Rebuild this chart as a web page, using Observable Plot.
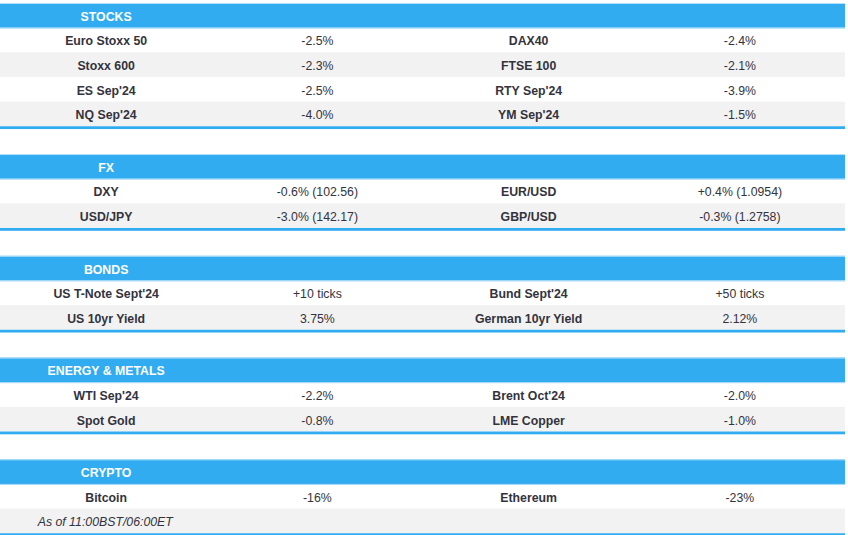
<!DOCTYPE html>
<html>
<head>
<meta charset="utf-8">
<script src="https://cdn.jsdelivr.net/npm/d3@7"></script>
<script src="https://cdn.jsdelivr.net/npm/@observablehq/plot@0.6"></script>
<style>
  html, body { margin: 0; padding: 0; background: #ffffff; }
  #chart svg { display: block; }
</style>
</head>
<body>
<div id="chart"></div>
<script>
// ---- data ----
const sectionTitles = ["STOCKS", "FX", "BONDS", "ENERGY & METALS", "CRYPTO"];
const sectionRowCounts = [4, 2, 2, 2, 2];

const leftNames = ["Euro Stoxx 50", "Stoxx 600", "ES Sep'24", "NQ Sep'24",
  "DXY", "USD/JPY",
  "US T-Note Sept'24", "US 10yr Yield",
  "WTI Sep'24", "Spot Gold",
  "Bitcoin", ""];
const leftValues = ["-2.5%", "-2.3%", "-2.5%", "-4.0%",
  "-0.6% (102.56)", "-3.0% (142.17)",
  "+10 ticks", "3.75%",
  "-2.2%", "-0.8%",
  "-16%", ""];
const rightNames = ["DAX40", "FTSE 100", "RTY Sep'24", "YM Sep'24",
  "EUR/USD", "GBP/USD",
  "Bund Sept'24", "German 10yr Yield",
  "Brent Oct'24", "LME Copper",
  "Ethereum", ""];
const rightValues = ["-2.4%", "-2.1%", "-3.9%", "-1.5%",
  "+0.4% (1.0954)", "-0.3% (1.2758)",
  "+50 ticks", "2.12%",
  "-2.0%", "-1.0%",
  "-23%", ""];
const footnote = "As of 11:00BST/06:00ET";

// ---- layout (table structure) ----
const TOP = 3, UNIT = 24.65, LINE = 2.8, GAP = 25;
const headers = [], rows = [], lines = [];
let yPos = TOP, r = 0;
sectionTitles.forEach((title, i) => {
  headers.push({ title, y1: yPos, y2: yPos + UNIT });
  yPos += UNIT;
  for (let k = 0; k < sectionRowCounts[i]; k++) {
    rows.push({
      y1: yPos, y2: yPos + UNIT, shade: k % 2 === 1,
      ln: leftNames[r], lv: leftValues[r], rn: rightNames[r], rv: rightValues[r]
    });
    r++;
    yPos += UNIT;
  }
  lines.push({ y1: yPos, y2: yPos + LINE });
  yPos += LINE + GAP;
});
const footRow = [rows[rows.length - 1]];
const mid = d => (d.y1 + d.y2) / 2;

const BLUE = "#31acf1";
const TEXT = "#33333d";
const FONT = "'Liberation Sans', Arial, sans-serif";
const FS = 12.3;
const DY = 1;

const chart = Plot.plot({
  width: 848,
  height: 535,
  marginTop: 0, marginBottom: 0, marginLeft: 0, marginRight: 3,
  x: { domain: [0, 4], axis: null },
  y: { domain: [0, 535], range: [0, 535], axis: null },
  style: { fontFamily: FONT, background: "#ffffff" },
  marks: [
    Plot.rect(rows, { x1: () => 0, x2: () => 4, y1: "y1", y2: "y2", fill: d => d.shade ? "#f2f2f2" : "#ffffff" }),
    Plot.rect(headers, { x1: () => 0, x2: () => 4, y1: "y1", y2: "y2", fill: BLUE }),
    Plot.ruleY(headers, { y: "y1", stroke: "#b4e0fa", strokeWidth: 1 }),
    Plot.ruleY(headers, { y: "y2", stroke: "#9ed6f7", strokeWidth: 1 }),
    Plot.rect(lines, { x1: () => 0, x2: () => 4, y1: "y1", y2: "y2", fill: BLUE }),
    Plot.text(headers, { x: () => 0.5, y: mid, dy: DY, text: "title", fill: "#ffffff", fontWeight: "bold", fontSize: FS, fontFamily: FONT }),
    Plot.text(rows, { x: () => 0.5, y: mid, dy: DY, text: "ln", fill: TEXT, fontWeight: "bold", fontSize: FS, fontFamily: FONT }),
    Plot.text(rows, { x: () => 1.5, y: mid, dy: DY, text: "lv", fill: TEXT, fontSize: FS, fontFamily: FONT }),
    Plot.text(rows, { x: () => 2.5, y: mid, dy: DY, text: "rn", fill: TEXT, fontWeight: "bold", fontSize: FS, fontFamily: FONT }),
    Plot.text(rows, { x: () => 3.5, y: mid, dy: DY, text: "rv", fill: TEXT, fontSize: FS, fontFamily: FONT }),
    Plot.text(footRow, { x: () => 0.176, y: mid, dy: DY, text: () => footnote, textAnchor: "start", fill: TEXT, fontStyle: "italic", fontSize: FS, fontFamily: FONT })
  ]
});
document.getElementById("chart").appendChild(chart);
</script>
</body>
</html>
